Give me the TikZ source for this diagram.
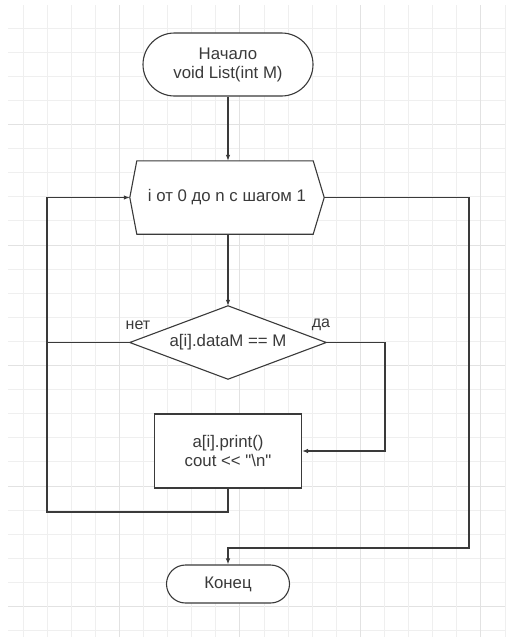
\documentclass[tikz,border=0pt]{standalone}
\usepackage{fontspec}
\newfontfamily\mainf{Liberation Sans}
\usetikzlibrary{arrows.meta}
\definecolor{ink}{HTML}{3A3A3A}
\definecolor{gridminor}{HTML}{EFEFEF}
\definecolor{gridmajor}{HTML}{E2E2E2}
\begin{document}
\begin{tikzpicture}[x=1pt,y=-1pt,
  txt/.style={font={\mainf\fontsize{16.8}{19}\selectfont},text=ink,align=center,inner sep=0pt},
  nodebox/.style={txt,draw=ink,line width=1.1pt,fill=white},
  term/.style={nodebox,rounded corners=#1},
  plain/.style={txt,draw=none},
  conn/.style={draw=ink,line width=1.1pt},
  arr/.style={conn,-{Latex[length=6pt,width=4.5pt]}},
  lbl/.style={font={\mainf\fontsize{16}{18}\selectfont},text=ink,inner sep=0pt},
  gmin/.style={draw=gridminor,line width=1pt},
  gmaj/.style={draw=gridmajor,line width=1pt}
]
\useasboundingbox (0,0) rectangle (506,637);
\fill[white] (0,0) rectangle (506,637);
% grid
\foreach \k in {1,...,26}{
  \pgfmathtruncatemacro\m{mod(\k,5)}
  \ifnum\m=0 \draw[gmaj] (8,4+24.1*\k) -- (506,4+24.1*\k);
  \else \draw[gmin] (8,4+24.1*\k) -- (506,4+24.1*\k); \fi
}
\foreach \k in {0,...,20}{
  \pgfmathtruncatemacro\m{mod(\k,5)}
  \ifnum\m=4 \draw[gmaj] (23+24.1*\k,5) -- (23+24.1*\k,637);
  \else \draw[gmin] (23+24.1*\k,5) -- (23+24.1*\k,637); \fi
}

% nodes
\node[term=31.5pt,minimum width=170pt,minimum height=63pt] (start) at (228,64.5)
  {Начало\\void List(int M)};

\node[plain,minimum width=194pt,minimum height=73pt] (hex) at (227,197.5)
  {i от 0 до n с шагом 1};
\path[conn,fill=white] (hex.west) -- ([xshift=7pt]hex.north west) -- ([xshift=-11pt]hex.north east)
  -- (hex.east) -- ([xshift=-11pt]hex.south east) -- ([xshift=7pt]hex.south west) -- cycle;
\node[plain,minimum width=194pt,minimum height=73pt] at (227,197.5)
  {i от 0 до n с шагом 1};

\node[plain,minimum width=196pt,minimum height=73pt] (dec) at (228,342.5)
  {a[i].dataM == M};
\path[conn,fill=white] (dec.north) -- (dec.east) -- (dec.south) -- (dec.west) -- cycle;
\node[plain] at (228,342.5) {a[i].dataM == M};

\node[nodebox,minimum width=147pt,minimum height=74pt] (box) at (228,451)
  {a[i].print()\\cout <\kern0pt< "\textbackslash n"};

\node[term=19pt,minimum width=123pt,minimum height=38pt] (end) at (228,584) {Конец};

% labels
\node[lbl] (no) at (138,325) {нет};
\node[lbl] (yes) at (321,325) {да};

% helper coordinates
\coordinate (lp) at (47,512);
\coordinate (yr) at (385,342.5);
\coordinate (ex) at (469,548);

% connectors
\draw[arr] (start.south) -- (start.south |- hex.north);
\draw[arr] (start.south |- hex.south) -- (dec.north);
\draw[conn] (dec.west) -- (lp |- dec.west);
\draw[arr] (dec.east) -- (yr) |- (box.east);
\draw[arr] (box.south) |- (lp) |- (hex.west);
\draw[arr] (hex.east) -| (ex) -| (end.north);
\end{tikzpicture}
\end{document}
